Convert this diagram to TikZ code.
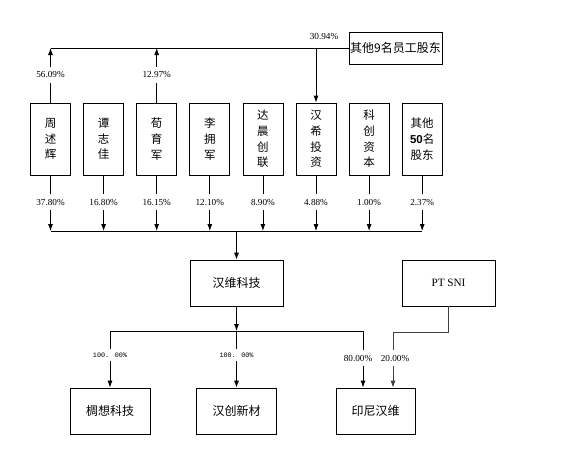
\documentclass[tikz,border=0pt]{standalone}
\usepackage{fontspec}
\setmainfont{Liberation Serif}
\newfontfamily\cjk{Noto Sans CJK SC}
\newfontfamily\numfont{Liberation Mono}
\newfontfamily\boldsans{Liberation Sans}
\usetikzlibrary{arrows.meta}

\tikzset{
  holder/.style={draw, line width=0.8pt, minimum width=40pt, minimum height=72pt,
    inner sep=0pt, align=center, font=\cjk\fontsize{11.5}{15.7}\selectfont},
  firm/.style={draw, line width=0.8pt, minimum width=93pt, minimum height=46pt,
    inner sep=0pt, font=\cjk\fontsize{12}{14}\selectfont},
  pct/.style={fill=white, inner xsep=1pt, inner ysep=4.5pt, font=\fontsize{9.2}{11}\selectfont},
  link/.style={line width=0.8pt},
  arr/.style={line width=0.8pt, -{Latex[length=7pt,width=5pt]}}
}

\begin{document}
\begin{tikzpicture}[x=1pt, y=-1pt]
\useasboundingbox (0,0) rectangle (562,464);

% Shareholders
\node[holder] (zsh) at (50.5,139) {周\\述\\辉};
\node[holder] (tzj) at (103.6,139) {谭\\志\\佳};
\node[holder] (xyj) at (156.7,139) {荀\\育\\军};
\node[holder] (lyj) at (209.8,139) {李\\拥\\军};
\node[holder] (dccl) at (262.9,139) {达\\晨\\创\\联};
\node[holder] (hxtz) at (316,139) {汉\\希\\投\\资};
\node[holder] (kczb) at (369.1,139) {科\\创\\资\\本};
\node[holder] (qt50) at (422.2,139) {其他\\{\boldsans\bfseries 50}名\\股东};

% Other employee shareholders
\node[firm, minimum height=32pt] (ygb) at (395.5,48) {其他9名员工股东};

% Top links
\draw[link] (ygb.west) -- (zsh.north |- ygb.west);
\draw[arr] (zsh.north) -- (zsh.north |- ygb.west);
\draw[arr] (xyj.north) -- (xyj.north |- ygb.west);
\draw[arr] (hxtz.north |- ygb.west) -- (hxtz.north);
\node[pct] (p56) at (50.5,75) {56.09\%};
\node[pct] (p12) at (156.7,75) {12.97\%};
\node[font=\fontsize{9.2}{11}\selectfont] (p30) at (324,37) {30.94\%};

% Bus to the company
\coordinate (busl) at (50.5,231);
\coordinate (busr) at (422.2,231);
\draw[link] (busl) -- (busr);
\draw[arr] (zsh.south) -- (zsh.south |- busl);
\draw[arr] (tzj.south) -- (tzj.south |- busl);
\draw[arr] (xyj.south) -- (xyj.south |- busl);
\draw[arr] (lyj.south) -- (lyj.south |- busl);
\draw[arr] (dccl.south) -- (dccl.south |- busl);
\draw[arr] (hxtz.south) -- (hxtz.south |- busl);
\draw[arr] (kczb.south) -- (kczb.south |- busl);
\draw[arr] (qt50.south) -- (qt50.south |- busl);

% Shares below the boxes
\node[pct] (s1) at (50.5,202) {37.80\%};
\node[pct] (s2) at (103.6,202) {16.80\%};
\node[pct] (s3) at (156.7,202) {16.15\%};
\node[pct] (s4) at (209.8,202) {12.10\%};
\node[pct] (s5) at (262.9,202) {8.90\%};
\node[pct] (s6) at (316,202) {4.88\%};
\node[pct] (s7) at (369.1,202) {1.00\%};
\node[pct] (s8) at (422.2,202) {2.37\%};

% Company and partner
\node[firm] (hwkj) at (236.5,283) {汉维科技};
\node[firm, font=\fontsize{11.2}{13}\selectfont] (ptsni) at (448.5,283) {PT SNI};
\draw[arr] (hwkj.north |- busl) -- (hwkj.north);

% Subsidiaries
\node[firm, minimum width=80pt] (zxkj) at (110,411) {椆想科技};
\node[firm, minimum width=80pt] (hcxc) at (236.5,411) {汉创新材};
\node[firm, minimum width=79pt] (ynhw) at (375.5,411) {印尼汉维};

\coordinate (bus2) at (236.5,331);
\coordinate (b2l) at (110,331);
\coordinate (b2r) at (363,331);
\coordinate (pt1) at (393,332);
\draw[arr] (hwkj.south) -- (bus2);
\draw[link] (b2l) -- (b2r);
\draw[arr] (b2l) -- (zxkj.north);
\draw[arr] (bus2) -- (hcxc.north);
\draw[arr] (b2r) -- (b2r |- ynhw.north);
\draw[arr, black!75] (ptsni.south) |- (pt1) -- (pt1 |- ynhw.north);

\node[pct, inner ysep=4pt, font=\numfont\fontsize{6.8}{8}\selectfont] (q1) at (110,355) {100. 00\%};
\node[pct, inner ysep=4pt, font=\numfont\fontsize{6.8}{8}\selectfont] (q2) at (236.5,355) {100. 00\%};
\node[pct] (q3) at (358,358) {80.00\%};
\node[pct] (q4) at (395,358) {20.00\%};

\end{tikzpicture}
\end{document}
